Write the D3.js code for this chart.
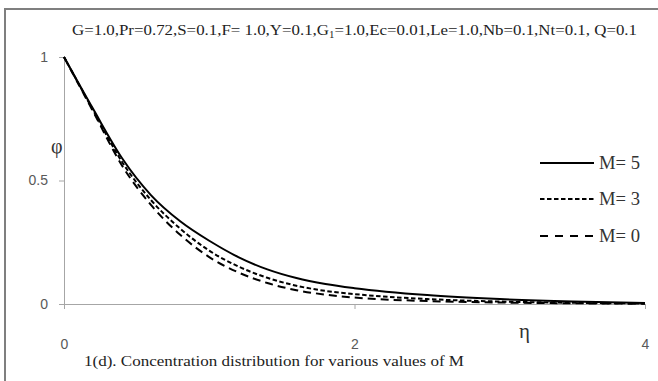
<!DOCTYPE html>
<html>
<head>
<meta charset="utf-8">
<script src="https://cdn.jsdelivr.net/npm/d3@7/dist/d3.min.js"></script>
<style>
  html, body { margin: 0; padding: 0; background: #fff; }
  svg { display: block; }
</style>
</head>
<body>
<svg id="chart" width="658" height="381"></svg>
<script>
// Concentration profiles φ(η) for three magnetic parameters
const eta   = [0, 0.2, 0.4, 0.6, 0.8, 1.0, 1.2, 1.4, 1.6, 1.8, 2.0, 2.5, 3.0, 3.5, 4.0];
const phiM5 = [1, 0.790, 0.590, 0.440, 0.335, 0.256, 0.190, 0.140, 0.105, 0.081, 0.064, 0.036, 0.020, 0.010, 0.004];
const phiM3 = [1, 0.785, 0.575, 0.420, 0.305, 0.216, 0.152, 0.106, 0.074, 0.053, 0.040, 0.020, 0.010, 0.005, 0.002];
const phiM0 = [1, 0.780, 0.560, 0.400, 0.280, 0.190, 0.128, 0.085, 0.056, 0.038, 0.026, 0.012, 0.006, 0.003, 0.001];

const seriesLabels = ["M= 5", "M= 3", "M= 0"];
const xTicks = [0, 2, 4];
const yTicks = [0, 0.5, 1];

const series = [
  { label: seriesLabels[0], values: phiM5, dash: null,      legendDash: null,      width: 2 },
  { label: seriesLabels[1], values: phiM3, dash: "4.5,2.5", legendDash: "4.5,2.5", width: 2 },
  { label: seriesLabels[2], values: phiM0, dash: "8,5",     legendDash: "8,7",     width: 2 }
];

const serif = "Liberation Serif, Times New Roman, serif";
const sans = "Liberation Sans, Arial, sans-serif";

const svg = d3.select("#chart");

// outer frame (left and top edges)
svg.append("path")
  .attr("d", "M5,381 L5,9 L658,9")
  .attr("fill", "none")
  .attr("stroke", "#7f7f7f")
  .attr("stroke-width", 2);

const x = d3.scaleLinear().domain([0, 4]).range([64, 645]);
const y = d3.scaleLinear().domain([0, 1]).range([304, 57]);

const axisColor = "#a6a6a6";
const tickText = "#595959";

// y axis
const gy = svg.append("g")
  .attr("transform", `translate(${x(0)},0)`)
  .call(d3.axisLeft(y).tickValues(yTicks).tickSize(5).tickSizeOuter(0).tickPadding(11)
    .tickFormat(d => d === 0.5 ? "0.5" : d3.format("d")(d)));
gy.select(".domain").attr("stroke", axisColor);
gy.selectAll(".tick line").attr("stroke", axisColor);
gy.selectAll(".tick text")
  .attr("fill", tickText)
  .attr("font-family", sans)
  .attr("font-size", 14);

// x axis
const gx = svg.append("g")
  .attr("transform", `translate(0,${y(0)})`)
  .call(d3.axisBottom(x).tickValues(xTicks).tickSize(5).tickSizeOuter(0).tickPadding(30)
    .tickFormat(d3.format("d")));
gx.select(".domain").attr("stroke", axisColor);
gx.selectAll(".tick line").attr("stroke", axisColor);
gx.selectAll(".tick text")
  .attr("fill", tickText)
  .attr("font-family", sans)
  .attr("font-size", 14);

// curves
const line = d3.line()
  .x((d, i) => x(eta[i]))
  .y(d => y(d))
  .curve(d3.curveMonotoneX);

svg.append("g").selectAll("path")
  .data(series)
  .join("path")
  .attr("d", s => line(s.values))
  .attr("fill", "none")
  .attr("stroke", "#000")
  .attr("stroke-width", s => s.width)
  .attr("stroke-dasharray", s => s.dash);

// legend
const legendY = [163, 199, 236];
const lg = svg.append("g");
series.forEach((s, i) => {
  lg.append("line")
    .attr("x1", 540).attr("x2", 594)
    .attr("y1", legendY[i]).attr("y2", legendY[i])
    .attr("stroke", "#000")
    .attr("stroke-width", s.width)
    .attr("stroke-dasharray", s.legendDash);
  lg.append("text")
    .attr("x", 599).attr("y", legendY[i])
    .attr("dy", "0.35em")
    .attr("font-family", serif)
    .attr("font-size", 18)
    .attr("fill", "#333")
    .attr("textLength", 41)
    .attr("lengthAdjust", "spacingAndGlyphs")
    .text(s.label);
});

// parameter line
const title = svg.append("text")
  .attr("x", 72).attr("y", 35)
  .attr("font-family", serif)
  .attr("font-size", 15.5)
  .attr("fill", "#222")
  .attr("textLength", 565)
  .attr("lengthAdjust", "spacingAndGlyphs");
title.append("tspan").text("G=1.0,Pr=0.72,S=0.1,F= 1.0,Y=0.1,G");
title.append("tspan").attr("font-size", 10).attr("dy", 3).text("1");
title.append("tspan").attr("dy", -3).text("=1.0,Ec=0.01,Le=1.0,Nb=0.1,Nt=0.1, Q=0.1");

// axis symbols
svg.append("text")
  .attr("x", 51).attr("y", 153)
  .attr("font-family", serif)
  .attr("font-size", 20)
  .attr("fill", "#333")
  .text("φ");
svg.append("text")
  .attr("x", 519).attr("y", 338)
  .attr("font-family", serif)
  .attr("font-size", 21)
  .attr("fill", "#333")
  .text("η");

// caption
svg.append("text")
  .attr("x", 84).attr("y", 366)
  .attr("font-family", serif)
  .attr("font-size", 15.5)
  .attr("fill", "#222")
  .attr("textLength", 380)
  .attr("lengthAdjust", "spacingAndGlyphs")
  .text("1(d). Concentration distribution for various values of  M");
</script>
</body>
</html>
